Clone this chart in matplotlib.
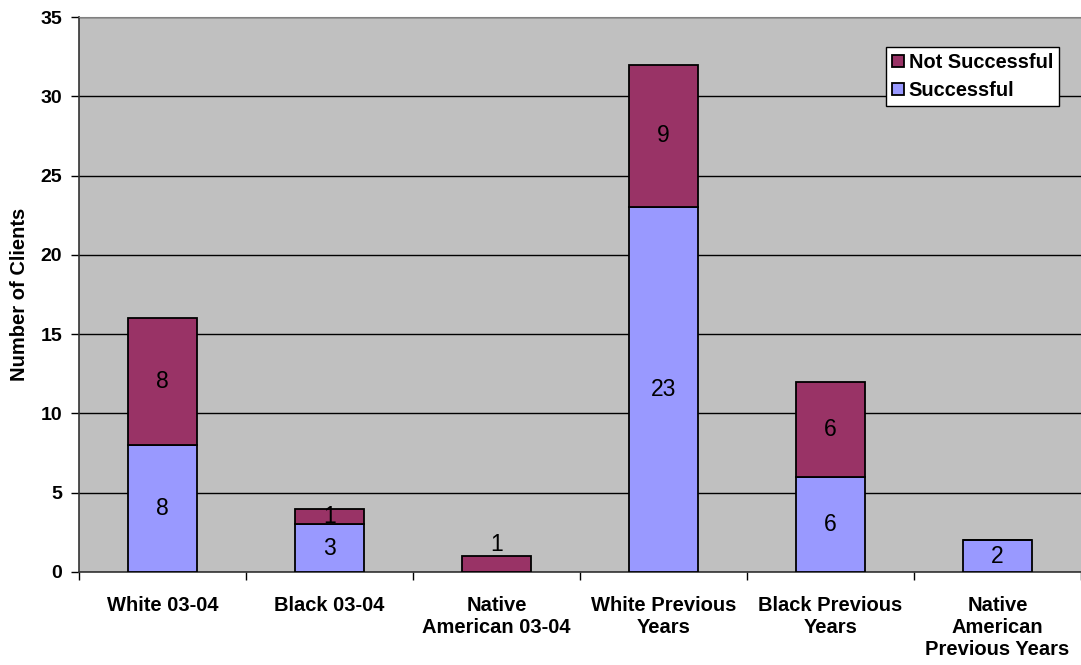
import numpy as np
import matplotlib.pyplot as plt

# Client outcomes by group
categories = ["White 03-04", "Black 03-04", "Native\nAmerican 03-04",
              "White Previous\nYears", "Black Previous\nYears",
              "Native\nAmerican\nPrevious Years"]
successful = [8, 3, 0, 23, 6, 2]
not_successful = [8, 1, 1, 9, 6, 0]

succ_color = "#9999FF"
fail_color = "#993366"
bg_color = "#C0C0C0"

plt.rcParams['font.family'] = ['Liberation Sans', 'DejaVu Sans']

fig = plt.figure(figsize=(10.81, 6.65), dpi=100)
ax = fig.add_axes([79 / 1081, 1 - 572 / 665, 1 - 79 / 1081, (572 - 17) / 665])
ax.set_facecolor(bg_color)

x = np.arange(len(categories))
width = 0.41

ax.set_axisbelow(True)
ax.yaxis.grid(True, color="black", linewidth=1)

b1 = ax.bar(x, successful, width, color=succ_color, edgecolor="black",
            linewidth=1.3, label="Successful", zorder=3)
b2 = ax.bar(x, not_successful, width, bottom=successful, color=fail_color,
            edgecolor="black", linewidth=1.3, label="Not Successful", zorder=3)

# value labels inside each segment
for i in range(len(categories)):
    s = successful[i]
    n = not_successful[i]
    if s > 0:
        ax.text(x[i], s / 2, str(s), ha="center", va="center",
                fontsize=16.5, zorder=4)
    if n > 0:
        if s == 0:
            # too thin to hold the label; put it just above the bar
            ax.text(x[i], s + n + 0.02, str(n), ha="center", va="bottom",
                    fontsize=16.5, zorder=4)
        else:
            ax.text(x[i], s + n / 2, str(n), ha="center", va="center",
                    fontsize=16.5, zorder=4)

ax.set_xlim(-0.5, len(categories) - 0.5)
ax.set_ylim(0, 35)
ax.set_yticks(np.arange(0, 36, 5))
ax.set_yticklabels([str(v) for v in range(0, 36, 5)], fontsize=14, fontweight="bold")

# category boundaries carry the tick marks, labels sit at the centres
ax.set_xticks(np.arange(-0.5, len(categories), 1))
ax.set_xticklabels([])
ax.set_xticks(x, minor=True)
ax.set_xticklabels(categories, minor=True, fontsize=14.5, fontweight="bold",
                   linespacing=1.2, va="top")
ax.tick_params(axis="x", which="minor", length=0, pad=17)
ax.tick_params(axis="x", which="major", length=6, width=1, direction="out")
ax.tick_params(axis="y", length=6, width=1, direction="out", pad=6)

ax.set_ylabel("Number of Clients", fontsize=14.5, fontweight="bold", labelpad=8)

ax.spines["right"].set_visible(False)
ax.spines["top"].set_color("#808080")
ax.spines["left"].set_color("#333333")
ax.spines["bottom"].set_color("#333333")
ax.spines["left"].set_linewidth(1.2)
ax.spines["bottom"].set_linewidth(1.2)

leg = ax.legend(handles=[b2, b1], loc="upper right",
                bbox_to_anchor=(980 / 1002, 1 - 30 / 555),
                frameon=True, fancybox=False, edgecolor="black",
                framealpha=1, prop={"weight": "bold", "size": 14.4},
                handlelength=0.6, handleheight=0.6, handletextpad=0.25,
                borderpad=0.3, labelspacing=0.45, borderaxespad=0)
leg.get_frame().set_linewidth(1)

fig.savefig("out.png", dpi=100)
